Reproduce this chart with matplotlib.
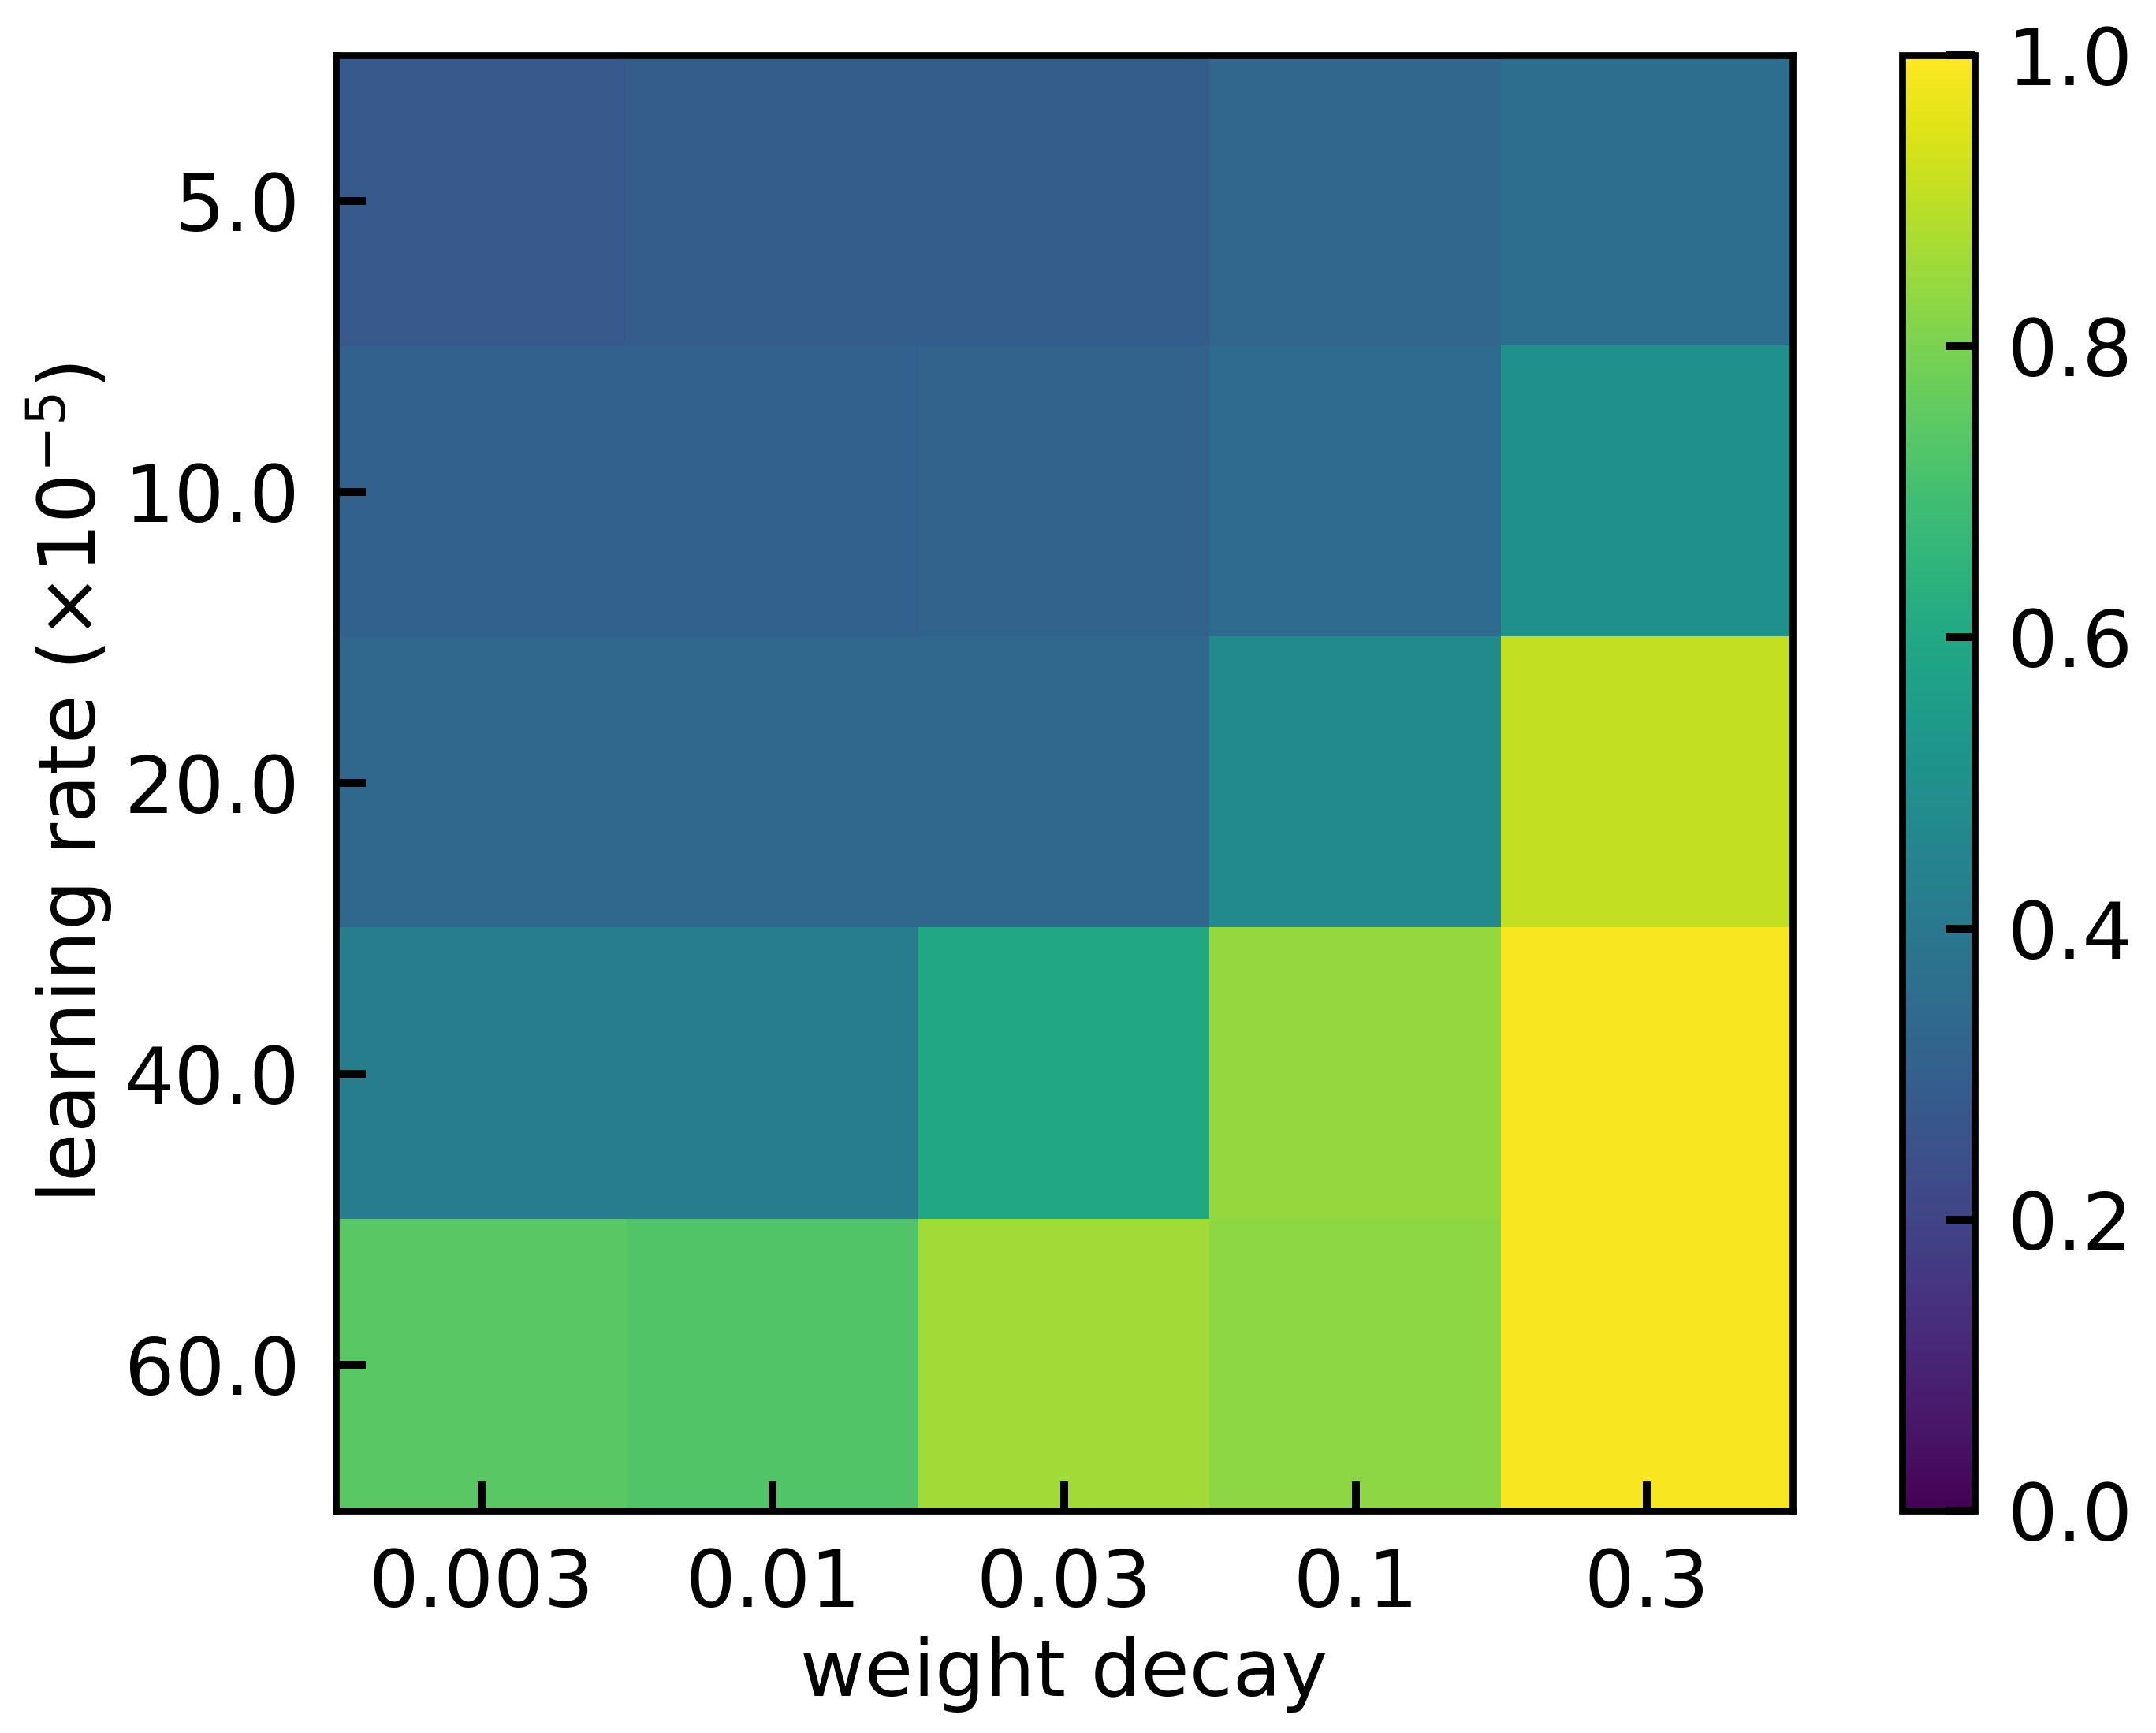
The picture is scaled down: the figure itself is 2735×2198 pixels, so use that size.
import numpy as np
import matplotlib
matplotlib.use("Agg")
import matplotlib.pyplot as plt

weight_decay = ["0.003", "0.01", "0.03", "0.1", "0.3"]
learning_rate = ["5.0", "10.0", "20.0", "40.0", "60.0"]
row_5 = [0.28, 0.295, 0.295, 0.33, 0.36]
row_10 = [0.31, 0.31, 0.32, 0.35, 0.50]
row_20 = [0.335, 0.335, 0.335, 0.48, 0.91]
row_40 = [0.42, 0.42, 0.60, 0.84, 0.99]
row_60 = [0.745, 0.73, 0.86, 0.83, 0.99]

values = np.array([row_5, row_10, row_20, row_40, row_60])

plt.rcParams['font.family'] = ['DejaVu Sans']
plt.rcParams['font.size'] = 24

fig = plt.figure(figsize=(9.12, 2198 / 300), dpi=300)
ax = fig.add_axes([0.1557, 0.1283, 0.6754, 0.8399])
cax = fig.add_axes([0.8819, 0.1283, 0.0336, 0.8399])

im = ax.imshow(values, cmap="viridis", vmin=0, vmax=1, aspect="auto")
ax.set_xticks(range(len(weight_decay)))
ax.set_xticklabels(weight_decay)
ax.set_yticks(range(len(learning_rate)))
ax.set_yticklabels(learning_rate)
ax.tick_params(direction="in", length=9, width=2.4, pad=11, labelsize=24)
for s in ax.spines.values():
    s.set_linewidth(2.1)
ax.set_xlabel("weight decay", fontsize=24, labelpad=4)
ax.set_ylabel(r"learning rate ($\times 10^{-5}$)", fontsize=24, labelpad=3)

cb = fig.colorbar(im, cax=cax)
cb.set_ticks([0.0, 0.2, 0.4, 0.6, 0.8, 1.0])
cb.ax.tick_params(direction="in", length=9, width=2.4, pad=10, labelsize=24)
cb.outline.set_linewidth(2.1)

fig.savefig("out.png", dpi=300)
